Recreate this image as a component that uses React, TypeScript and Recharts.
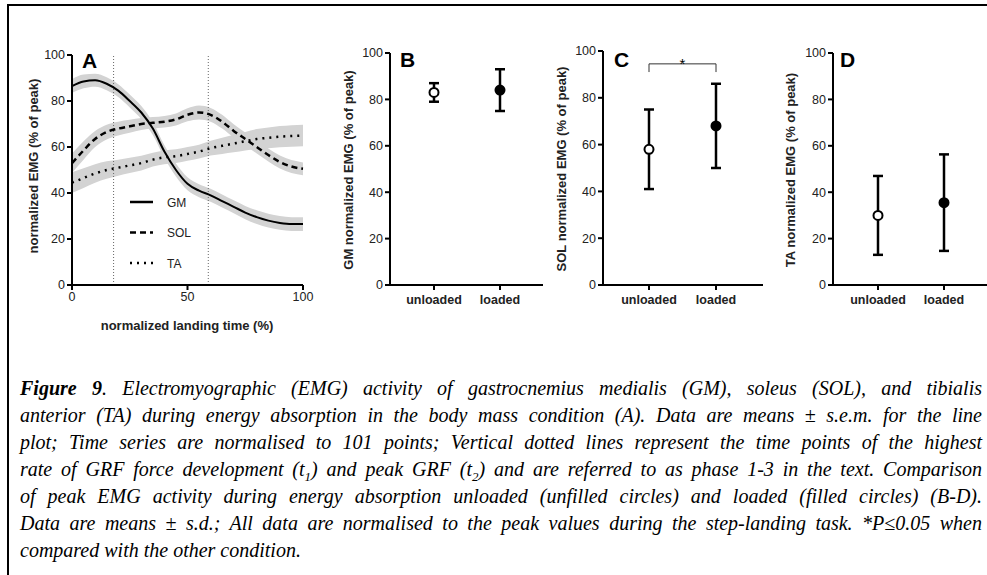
import React from "react";
import {
  ComposedChart,
  Line,
  Area,
  XAxis,
  YAxis,
  ReferenceLine,
  ErrorBar,
  Legend,
  Label,
} from "recharts";

// ---- panel A: time series (mean ± s.e.m.) ----
const landingTime = [0, 5, 10, 15, 20, 25, 30, 35, 40, 45, 50, 55, 60, 65, 70, 75, 80, 85, 90, 95, 100];
const gmMean = [86.5, 88.5, 89, 87.5, 84.5, 80, 75, 68, 58, 50, 44, 41, 39, 36.5, 34, 31.5, 29.5, 28, 27, 26.5, 26.5];
const gmSem = [3, 3, 2.8, 2.8, 2.8, 2.8, 2.8, 2.8, 2.8, 2.8, 2.8, 2.8, 2.8, 2.8, 2.8, 2.9, 3, 3, 3, 3, 3];
const solMean = [53, 58.5, 63.5, 66.5, 68, 69, 70, 70.5, 71, 72, 74, 75, 74, 71, 67, 63.5, 60, 56.5, 53.5, 51.5, 50.5];
const solSem = [4.2, 4, 3.5, 3.2, 3, 2.8, 2.6, 2.5, 2.5, 2.6, 2.8, 3, 3, 3, 2.9, 2.8, 2.8, 2.8, 2.8, 2.8, 2.8];
const taMean = [44.5, 46.5, 48.5, 50, 51, 52, 53, 54.5, 55.5, 56, 57, 58, 59.5, 60.5, 61.5, 62.5, 63.5, 64, 64.5, 64.8, 65];
const taSem = [4.5, 4.3, 4, 3.8, 3.5, 3.3, 3.2, 3, 3, 3, 3, 3, 3.2, 3.5, 3.8, 4, 4.3, 4.5, 4.6, 4.7, 4.7];
const phaseMarks = [18, 59]; // t1, t2

// ---- panels B-D: peak EMG (mean ± s.d.) ----
const conditions = ["unloaded", "loaded"];
const gmPeak = [83, 84];
const gmSd = [4, 9];
const solPeak = [58, 68];
const solSd = [17, 18];
const taPeak = [30, 35.5];
const taSd = [17, 20.8];

const yTicks = [0, 20, 40, 60, 80, 100];
const timeTicks = [0, 50, 100];

const SANS = "'Liberation Sans', Arial, sans-serif";
const SERIF = "'Liberation Serif', 'Times New Roman', serif";
const BAND = "#d3d3d3";

const lineRows = landingTime.map((t, i) => ({
  t,
  gm: gmMean[i],
  sol: solMean[i],
  ta: taMean[i],
  gmBand: [gmMean[i] - gmSem[i], gmMean[i] + gmSem[i]],
  solBand: [solMean[i] - solSem[i], solMean[i] + solSem[i]],
  taBand: [taMean[i] - taSem[i], taMean[i] + taSem[i]],
}));

const axisLine = { stroke: "#000", strokeWidth: 2 };
const tickLine = { stroke: "#000", strokeWidth: 2 };
const numTick = { fill: "#222", fontSize: 12.5, fontFamily: SANS };
const catTick = { fill: "#222", fontSize: 12.5, fontFamily: SANS, fontWeight: "bold" };

const legendRows = [
  { name: "GM", dash: undefined },
  { name: "SOL", dash: "6 4" },
  { name: "TA", dash: "2 5" },
];

function EmgLegend() {
  return (
    <svg width={70} height={86}>
      {legendRows.map((r, i) => (
        <g key={r.name}>
          <line x1={0} x2={23} y1={12 + i * 30.5} y2={12 + i * 30.5} stroke="#000" strokeWidth={2.5} strokeDasharray={r.dash} />
          <text x={37} y={16.5 + i * 30.5} fontSize={12} fontFamily={SANS} fill="#222">
            {r.name}
          </text>
        </g>
      ))}
    </svg>
  );
}

function AxisTitle({ x, y, text, rotate }: { x: number; y: number; text: string; rotate?: boolean }) {
  return (
    <div
      style={{
        position: "absolute",
        left: x,
        top: y,
        transform: `translate(-50%, -50%)${rotate ? " rotate(-90deg)" : ""}`,
        whiteSpace: "nowrap",
        fontFamily: SANS,
        fontWeight: "bold",
        fontSize: 13,
        color: "#222",
      }}
    >
      {text}
    </div>
  );
}

function PanelLetter({ x, y, text }: { x: number; y: number; text: string }) {
  return (
    <div
      style={{
        position: "absolute",
        left: x,
        top: y,
        fontFamily: SANS,
        fontWeight: "bold",
        fontSize: 21,
        lineHeight: 1,
        color: "#000",
      }}
    >
      {text}
    </div>
  );
}

function PeakDot(props: any) {
  const { cx, cy, index } = props;
  return (
    <circle
      key={index}
      cx={cx}
      cy={cy}
      r={4.5}
      fill={index === 0 ? "#fff" : "#000"}
      stroke="#000"
      strokeWidth={2}
    />
  );
}

function PeakPanel({
  left,
  width,
  top,
  marginLeft,
  marginRight,
  pad,
  values,
  sds,
  significant,
}: {
  left: number;
  width: number;
  top: number;
  marginLeft: number;
  marginRight: number;
  pad: [number, number];
  values: number[];
  sds: number[];
  significant?: boolean;
}) {
  const rows = conditions.map((c, i) => ({ cond: c, v: values[i], sd: sds[i] }));
  return (
    <div style={{ position: "absolute", left, top: 0 }}>
      <ComposedChart
        width={width}
        height={340}
        data={rows}
        margin={{ top, right: marginRight, bottom: 20, left: marginLeft }}
      >
        <XAxis
          dataKey="cond"
          height={35}
          padding={{ left: pad[0], right: pad[1] }}
          axisLine={axisLine}
          tickLine={tickLine}
          tickSize={5}
          tickMargin={5}
          tick={catTick}
        />
        <YAxis
          type="number"
          domain={[0, 100]}
          ticks={yTicks}
          interval={0}
          width={50}
          axisLine={axisLine}
          tickLine={tickLine}
          tickSize={5}
          tick={numTick}
        />
        {significant && (
          <>
            <ReferenceLine
              segment={[{ x: conditions[0], y: 94.5 }, { x: conditions[1], y: 94.5 }]}
              stroke="#333"
              strokeWidth={1}
            >
              <Label value="*" position="center" fontSize={15} fill="#000" fontFamily={SANS} />
            </ReferenceLine>
            <ReferenceLine segment={[{ x: conditions[0], y: 94.5 }, { x: conditions[0], y: 91 }]} stroke="#333" strokeWidth={1} />
            <ReferenceLine segment={[{ x: conditions[1], y: 94.5 }, { x: conditions[1], y: 91 }]} stroke="#333" strokeWidth={1} />
          </>
        )}
        <Line
          dataKey="v"
          stroke="none"
          strokeWidth={0}
          dot={PeakDot}
          activeDot={false}
          isAnimationActive={false}
        >
          <ErrorBar dataKey="sd" direction="y" width={5} stroke="#000" strokeWidth={2.5} />
        </Line>
      </ComposedChart>
    </div>
  );
}

const captionLines: React.ReactNode[] = [
  <>
    <b>Figure 9</b>. Electromyographic (EMG) activity of gastrocnemius medialis (GM), soleus (SOL), and tibialis
  </>,
  <>anterior (TA) during energy absorption in the body mass condition (A). Data are means ± s.e.m. for the line</>,
  <>plot; Time series are normalised to 101 points; Vertical dotted lines represent the time points of the highest</>,
  <>
    rate of GRF force development (t<sub style={{ fontSize: "0.65em" }}>1</sub>) and peak GRF (t
    <sub style={{ fontSize: "0.65em" }}>2</sub>) and are referred to as phase 1-3 in the text. Comparison
  </>,
  <>of peak EMG activity during energy absorption unloaded (unfilled circles) and loaded (filled circles) (B-D).</>,
  <>Data are means ± s.d.; All data are normalised to the peak values during the step-landing task. *P≤0.05 when</>,
  <>compared with the other condition.</>,
];

export default function App() {
  return (
    <div
      style={{
        position: "absolute",
        left: 0,
        top: 0,
        width: 987,
        height: 575,
        overflow: "hidden",
        background: "#fff",
      }}
    >
      {/* frame */}
      <div
        style={{
          position: "absolute",
          left: 7,
          top: 4,
          width: 1000,
          height: 600,
          borderTop: "2px solid #000",
          borderLeft: "2px solid #000",
        }}
      />

      {/* A: time series */}
      <div style={{ position: "absolute", left: 0, top: 0 }}>
        <ComposedChart width={320} height={340} data={lineRows} margin={{ top: 55, right: 17, bottom: 20, left: 22 }}>
          <XAxis
            type="number"
            dataKey="t"
            domain={[0, 100]}
            ticks={timeTicks}
            interval={0}
            height={35}
            axisLine={axisLine}
            tickLine={tickLine}
            tickSize={5}
            tick={numTick}
          />
          <YAxis
            type="number"
            domain={[0, 100]}
            ticks={yTicks}
            interval={0}
            width={50}
            axisLine={axisLine}
            tickLine={tickLine}
            tickSize={5}
            tick={numTick}
          />
          {phaseMarks.map((x) => (
            <ReferenceLine key={x} x={x} stroke="#666" strokeWidth={1} strokeDasharray="1 2" />
          ))}
          <Area dataKey="taBand" type="monotone" stroke="none" fill={BAND} fillOpacity={1} legendType="none" isAnimationActive={false} />
          <Area dataKey="solBand" type="monotone" stroke="none" fill={BAND} fillOpacity={1} legendType="none" isAnimationActive={false} />
          <Area dataKey="gmBand" type="monotone" stroke="none" fill={BAND} fillOpacity={1} legendType="none" isAnimationActive={false} />
          <Line dataKey="ta" type="monotone" stroke="#000" strokeWidth={2.5} strokeDasharray="2 5" dot={false} activeDot={false} isAnimationActive={false} />
          <Line dataKey="sol" type="monotone" stroke="#000" strokeWidth={2.5} strokeDasharray="6 4" dot={false} activeDot={false} isAnimationActive={false} />
          <Line dataKey="gm" type="monotone" stroke="#000" strokeWidth={2} dot={false} activeDot={false} isAnimationActive={false} />
          <Legend
            layout="vertical"
            align="center"
            verticalAlign="middle"
            content={() => <EmgLegend />}
            wrapperStyle={{ left: 130, top: 190, width: 70, height: 86 }}
          />
        </ComposedChart>
      </div>

      <PeakPanel left={320} width={230} top={53} marginLeft={20} marginRight={7} pad={[44, 43]} values={gmPeak} sds={gmSd} />
      <PeakPanel left={540} width={230} top={51} marginLeft={13} marginRight={7} pad={[46, 47]} values={solPeak} sds={solSd} significant />
      <PeakPanel left={770} width={220} top={53} marginLeft={13} marginRight={1} pad={[45, 45]} values={taPeak} sds={taSd} />

      <AxisTitle x={33} y={166} text="normalized EMG (% of peak)" rotate />
      <AxisTitle x={187} y={325} text="normalized landing time (%)" />
      <AxisTitle x={348} y={170} text="GM normalized EMG (% of peak)" rotate />
      <AxisTitle x={561} y={169} text="SOL normalized EMG (% of peak)" rotate />
      <AxisTitle x={790} y={170} text="TA normalized EMG (% of peak)" rotate />

      <PanelLetter x={82} y={50} text="A" />
      <PanelLetter x={400} y={49} text="B" />
      <PanelLetter x={614} y={49} text="C" />
      <PanelLetter x={840} y={49} text="D" />

      {/* caption */}
      <div
        style={{
          position: "absolute",
          left: 20,
          top: 375,
          width: 962,
          fontFamily: SERIF,
          fontStyle: "italic",
          fontSize: 20,
          lineHeight: "27px",
          color: "#000",
        }}
      >
        {captionLines.map((l, i) => (
          <div
            key={i}
            style={{
              whiteSpace: "nowrap",
              textAlign: "justify",
              textAlignLast: i === captionLines.length - 1 ? "left" : "justify",
              height: 27,
            }}
          >
            {l}
          </div>
        ))}
      </div>
    </div>
  );
}
